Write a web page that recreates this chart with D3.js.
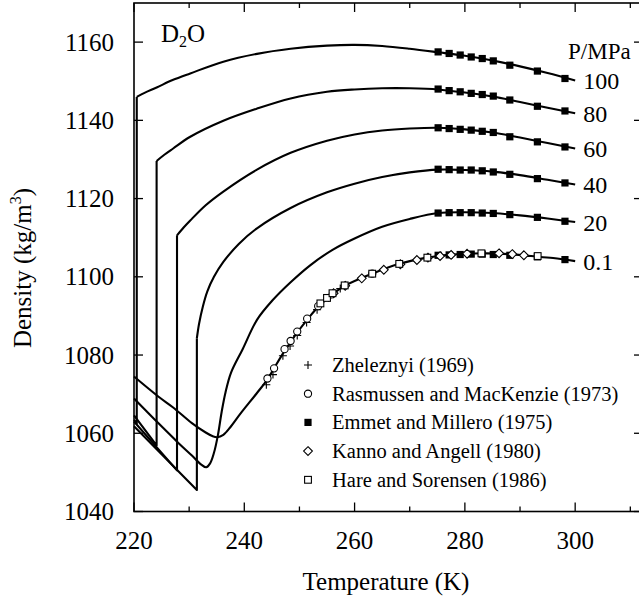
<!DOCTYPE html>
<html>
<head>
<meta charset="utf-8">
<script src="https://cdn.jsdelivr.net/npm/d3@7"></script>
<style>
  body { margin: 0; background: #fff; overflow: hidden; }
</style>
</head>
<body>
<svg id="chart" width="639" height="601" font-family="'Liberation Serif', 'Times New Roman', 'DejaVu Serif', serif"></svg>
<script>
// ---- Axis ticks ----
const xTicks = [220, 240, 260, 280, 300];
const yTicks = [1040, 1060, 1080, 1100, 1120, 1140, 1160];

// ---- Pressure labels (MPa), top to bottom ----
const pressures = ["100", "80", "60", "40", "20", "0.1"];

// ---- Model curves: low-temperature branch + jump (linear) ----
const low100 = [[220.0, 1063.4], [220.5, 1062.5], [220.5, 1146.0]];
const low80  = [[220.0, 1064.6], [224.1, 1056.9], [224.1, 1129.6]];
const low60  = [[220.0, 1063.0], [227.8, 1050.5], [227.8, 1110.6]];
const low40  = [[220.0, 1061.8], [231.4, 1045.5], [231.4, 1084.3]];

// ---- Model curves: upper (liquid) branch ----
const curve100 = [[220.5, 1146.0], [222.0, 1147.1], [224.1, 1148.4], [227.0, 1150.3], [230.2, 1152.0],
  [236.2, 1155.0], [242.3, 1157.0], [248.4, 1158.3], [255.0, 1159.1], [260.0, 1159.3], [265.0, 1159.0],
  [270.0, 1158.3], [275.15, 1157.4], [280.0, 1156.5], [285.0, 1155.3], [290.0, 1153.8], [295.0, 1152.1], [300.0, 1150.2]];
const curve80 = [[224.1, 1129.6], [225.5, 1131.2], [227.1, 1132.8], [230.2, 1135.8], [236.2, 1139.9],
  [242.3, 1143.0], [248.4, 1145.6], [255.0, 1147.3], [260.0, 1147.9], [265.0, 1148.2], [270.0, 1148.2],
  [275.15, 1147.9], [280.0, 1147.1], [285.0, 1146.1], [290.0, 1144.7], [295.0, 1143.2], [300.0, 1141.8]];
const curve60 = [[227.8, 1110.6], [229.0, 1112.6], [230.2, 1114.4], [233.0, 1118.3], [236.2, 1121.8],
  [242.3, 1127.4], [248.4, 1131.7], [255.0, 1134.8], [260.0, 1136.4], [265.0, 1137.4], [270.0, 1137.9],
  [275.15, 1138.1], [280.0, 1137.7], [285.0, 1136.9], [290.0, 1135.6], [295.0, 1134.2], [300.0, 1132.8]];
const curve40 = [[231.4, 1084.3], [231.8, 1088.0], [232.5, 1092.5], [233.3, 1096.3], [234.5, 1100.0],
  [236.2, 1103.8], [239.0, 1108.4], [242.3, 1112.4], [248.4, 1117.6], [255.0, 1121.6], [260.0, 1123.8],
  [265.0, 1125.5], [270.0, 1126.7], [275.15, 1127.4], [280.0, 1127.3], [285.0, 1126.9], [290.0, 1126.0],
  [295.0, 1124.8], [300.0, 1123.6]];
const curve20 = [[220.0, 1068.9], [224.4, 1062.6], [228.0, 1057.6], [230.5, 1054.3], [232.2, 1052.0],
  [233.1, 1051.3], [233.8, 1052.3], [234.5, 1055.0], [235.2, 1059.4], [235.9, 1065.5], [236.6, 1070.5],
  [237.6, 1075.5], [239.7, 1081.5], [242.3, 1089.0], [245.0, 1093.8], [248.4, 1098.6], [252.0, 1103.0],
  [256.0, 1106.9], [260.0, 1109.8], [265.0, 1112.8], [270.0, 1114.8], [275.15, 1116.3], [280.0, 1116.5],
  [285.0, 1116.3], [290.0, 1115.7], [295.0, 1114.9], [300.0, 1114.0]];
const curve01 = [[220.0, 1074.5], [224.4, 1069.4], [227.1, 1066.6], [230.5, 1062.6], [233.0, 1060.2],
  [234.2, 1059.3], [235.1, 1059.0], [236.2, 1059.6], [237.5, 1061.6], [239.3, 1065.0], [242.3, 1070.3],
  [244.1, 1073.6], [245.3, 1076.4], [247.2, 1080.8], [248.4, 1083.3], [249.6, 1085.8], [251.4, 1089.0],
  [253.2, 1092.0], [255.9, 1095.4], [258.1, 1097.6], [263.2, 1100.8], [267.8, 1103.2], [273.2, 1104.9],
  [277.0, 1105.6], [280.0, 1105.9], [284.0, 1106.0], [288.0, 1105.8], [292.0, 1105.3], [296.0, 1104.8],
  [300.0, 1104.0]];

// ---- Emmet and Millero (1975): temperatures and densities per pressure ----
const emmetT = [275.15, 277.15, 279.15, 281.15, 283.15, 285.15, 288.15, 293.15, 298.15];
const emmet100 = [1157.5, 1157.1, 1156.7, 1156.2, 1155.8, 1155.2, 1154.1, 1152.6, 1150.7];
const emmet80  = [1148.0, 1147.6, 1147.3, 1146.9, 1146.6, 1146.2, 1145.2, 1143.6, 1142.4];
const emmet60  = [1138.1, 1137.9, 1137.7, 1137.5, 1137.2, 1136.9, 1135.8, 1134.5, 1133.2];
const emmet40  = [1127.5, 1127.4, 1127.3, 1127.3, 1127.1, 1126.8, 1126.2, 1125.1, 1124.0];
const emmet20  = [1116.3, 1116.4, 1116.4, 1116.4, 1116.3, 1116.2, 1115.9, 1115.2, 1114.2];
const emmet01  = [1105.5, 1105.6, 1105.7, 1105.8, 1105.8, 1105.7, 1105.5, 1105.1, 1104.4];

// ---- 0.1 MPa literature data ----
const zheleznyi = [[244.0, 1072.4], [245.2, 1075.0], [247.0, 1079.8], [248.3, 1082.3], [249.6, 1085.0],
  [251.3, 1088.3], [253.2, 1091.6], [255.3, 1094.6], [257.4, 1097.0]];
const rasmussen = [[244.2, 1074.0], [245.4, 1076.6], [247.3, 1081.5], [248.4, 1083.6], [249.6, 1086.0],
  [251.4, 1089.3], [253.4, 1092.5], [263.2, 1100.8]];
const kanno = [[256.2, 1095.8], [258.3, 1097.7], [261.3, 1099.6], [265.3, 1101.8], [268.3, 1103.2],
  [271.3, 1104.3], [273.3, 1104.9], [275.5, 1105.3], [277.5, 1105.6], [280.4, 1105.9], [286.2, 1106.0],
  [288.6, 1105.8], [290.7, 1105.5]];
const hare = [[253.8, 1093.2], [255.0, 1094.6], [256.0, 1095.8], [258.2, 1097.8], [263.2, 1100.8],
  [268.1, 1103.3], [273.2, 1104.9], [283.0, 1106.0], [293.2, 1105.3]];

const legendNames = ["Zheleznyi (1969)", "Rasmussen and MacKenzie (1973)", "Emmet and Millero (1975)",
  "Kanno and Angell (1980)", "Hare and Sorensen (1986)"];

// ---- Layout (right frame edge sits just past the canvas) ----
const svg = d3.select("#chart");
const plotL = 134, plotR = 643, plotT = 3, plotB = 511.5;
const x = d3.scaleLinear().domain([220, 312.3]).range([plotL, plotR]);
const y = d3.scaleLinear().domain([1040, 1170]).range([plotB, plotT]);

// Frame
svg.append("rect").attr("x", plotL).attr("y", plotT).attr("width", plotR - plotL).attr("height", plotB - plotT)
  .attr("fill", "none").attr("stroke", "#000").attr("stroke-width", 1.6);

// Ticks (inward on all sides)
const xMinor = d3.range(230, 312, 20);
const tickG = svg.append("g").attr("stroke", "#000").attr("stroke-width", 1.3);
xTicks.forEach(t => {
  tickG.append("line").attr("x1", x(t)).attr("x2", x(t)).attr("y1", plotB).attr("y2", plotB - 9);
  tickG.append("line").attr("x1", x(t)).attr("x2", x(t)).attr("y1", plotT).attr("y2", plotT + 9);
});
xMinor.forEach(t => {
  tickG.append("line").attr("x1", x(t)).attr("x2", x(t)).attr("y1", plotB).attr("y2", plotB - 5);
  tickG.append("line").attr("x1", x(t)).attr("x2", x(t)).attr("y1", plotT).attr("y2", plotT + 5);
});
yTicks.forEach(v => {
  tickG.append("line").attr("x1", plotL).attr("x2", plotL + 9).attr("y1", y(v)).attr("y2", y(v));
  tickG.append("line").attr("x1", plotR).attr("x2", plotR - 9).attr("y1", y(v)).attr("y2", y(v));
});

// Tick labels
svg.append("g").selectAll("text").data(xTicks).join("text")
  .attr("x", d => x(d)).attr("y", 549).attr("text-anchor", "middle").attr("font-size", 25).text(d => d);
svg.append("g").selectAll("text").data(yTicks).join("text")
  .attr("x", 114).attr("y", d => y(d) + 8.5).attr("text-anchor", "end").attr("font-size", 25).text(d => d);

// Axis titles
svg.append("text").attr("x", 386).attr("y", 590).attr("text-anchor", "middle")
  .attr("font-size", 25).text("Temperature (K)");
const yt = svg.append("text").attr("transform", "translate(31,268) rotate(-90)")
  .attr("text-anchor", "middle").attr("font-size", 25);
yt.append("tspan").text("Density (kg/m");
yt.append("tspan").attr("font-size", 16).attr("dy", -10).text("3");
yt.append("tspan").attr("dy", 10).text(")");

// Substance label
const sub = svg.append("text").attr("x", 161).attr("y", 42).attr("font-size", 25);
sub.append("tspan").text("D");
sub.append("tspan").attr("font-size", 16).attr("dy", 5).text("2");
sub.append("tspan").attr("dy", -5).text("O");

// Curves
const lin = d3.line().x(d => x(d[0])).y(d => y(d[1]));
const smooth = d3.line().x(d => x(d[0])).y(d => y(d[1])).curve(d3.curveCatmullRom.alpha(0.5));
const curveG = svg.append("g").attr("fill", "none").attr("stroke", "#000").attr("stroke-width", 2.1)
  .attr("stroke-linejoin", "round");
[low100, low80, low60, low40].forEach(c => curveG.append("path").attr("d", lin(c)));
[curve100, curve80, curve60, curve40, curve20, curve01].forEach(c => curveG.append("path").attr("d", smooth(c)));

// Markers
const markG = svg.append("g");
function filledSquare(g, cx, cy) {
  g.append("rect").attr("x", cx - 3.6).attr("y", cy - 3.6).attr("width", 7.2).attr("height", 7.2).attr("fill", "#000");
}
function openSquare(g, cx, cy) {
  g.append("rect").attr("x", cx - 3.4).attr("y", cy - 3.4).attr("width", 6.8).attr("height", 6.8)
    .attr("fill", "#fff").attr("stroke", "#000").attr("stroke-width", 1.1);
}
function openCircle(g, cx, cy) {
  g.append("circle").attr("cx", cx).attr("cy", cy).attr("r", 3.6)
    .attr("fill", "#fff").attr("stroke", "#000").attr("stroke-width", 1.1);
}
function diamond(g, cx, cy) {
  const r = 4.4;
  g.append("path").attr("d", `M${cx},${cy - r}L${cx + r},${cy}L${cx},${cy + r}L${cx - r},${cy}Z`)
    .attr("fill", "#fff").attr("stroke", "#000").attr("stroke-width", 1.1);
}
function plus(g, cx, cy) {
  const r = 4;
  g.append("path").attr("d", `M${cx - r},${cy}H${cx + r}M${cx},${cy - r}V${cy + r}`)
    .attr("stroke", "#000").attr("stroke-width", 1.1);
}

[emmet100, emmet80, emmet60, emmet40, emmet20, emmet01].forEach(arr =>
  arr.forEach((v, i) => filledSquare(markG, x(emmetT[i]), y(v))));
zheleznyi.forEach(d => plus(markG, x(d[0]), y(d[1])));
rasmussen.forEach(d => openCircle(markG, x(d[0]), y(d[1])));
kanno.forEach(d => diamond(markG, x(d[0]), y(d[1])));
hare.forEach(d => openSquare(markG, x(d[0]), y(d[1])));

// Pressure labels at curve ends
const ends = [curve100, curve80, curve60, curve40, curve20, curve01].map(c => c[c.length - 1]);
svg.append("g").selectAll("text").data(pressures).join("text")
  .attr("x", (d, i) => x(ends[i][0]) + 8).attr("y", (d, i) => y(ends[i][1]) + 8.5)
  .attr("font-size", 24).text(d => d);
svg.append("text").attr("x", 568).attr("y", 59).attr("font-size", 23).text("P/MPa");

// Legend
const markers = [plus, openCircle, filledSquare, diamond, openSquare];
const legG = svg.append("g");
legendNames.forEach((name, i) => {
  const ly = 365 + i * 28.7;
  markers[i](legG, 308, ly);
  legG.append("text").attr("x", 332).attr("y", ly + 7).attr("font-size", 20.5).text(name);
});
</script>
</body>
</html>
